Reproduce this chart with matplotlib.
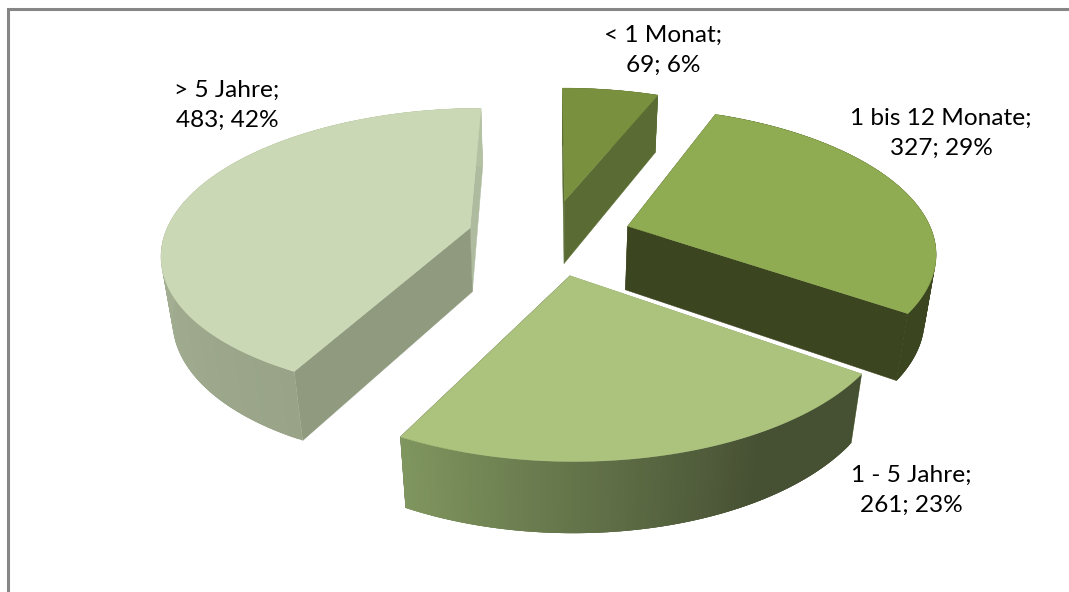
import numpy as np
import matplotlib
matplotlib.use("Agg")
import matplotlib.pyplot as plt
from matplotlib.colors import to_rgb
from matplotlib.patches import Polygon

categories = ["< 1 Monat", "1 bis 12 Monate", "1 - 5 Jahre", "> 5 Jahre"]
values = [69, 327, 261, 483]
percents = [6, 29, 23, 42]

top_colors = ["#79903f", "#90ac52", "#acc37e", "#cbd8b5"]
wall_start = ["#5a6c33", "#3b4520", "#465033", "#98a388"]
wall_end = ["#5a6c33", "#3b4520", "#80965f", "#b5c1a3"]
cut_start = ["#5a6c33", "#3b4520", "#80965f", "#8f9a7f"]
cut_end = ["#5a6c33", "#3b4520", "#465033", "#aebb9f"]

# perspective of the pie, in pixels
cx, cy = 549.5, 237
ax_r, ay_r = 306, 141.7
k = 0.161
height = 66
t = 0.03
explode = 0.27


def project(x, y, depth=0.0):
    w = 1 - k * y + t * depth
    return np.column_stack([cx + ax_r * x / w, cy + (ay_r * y + height * depth) / w])


fig = plt.figure(figsize=(10.69, 5.92), dpi=100)
ax = fig.add_axes([0, 0, 1, 1])
ax.set_xlim(0, 1069)
ax.set_ylim(592, 0)
ax.axis("off")

# chart frame, only left and top are in the crop
ax.plot([8, 8, 1069], [592, 8.5, 8.5], color="#868686", lw=2.2, solid_joinstyle="miter")

plt.rcParams["font.family"] = ["Lato", "DejaVu Sans"]

total = sum(values)
edges = np.concatenate([[0], np.cumsum(values)]) / total * 2 * np.pi

# back slices first, the front one last
for i in [0, 1, 3, 2]:
    a0, a1 = edges[i], edges[i + 1]
    mid = (a0 + a1) / 2
    ox, oy = explode * np.sin(mid), -explode * np.cos(mid)
    ang = np.linspace(a0, a1, 160)
    rx = ox + np.sin(ang)
    ry = oy - np.cos(ang)

    # cut faces, far one first
    cuts = [(a0, cut_start[i]), (a1, cut_end[i])]
    cuts.sort(key=lambda c: -np.cos(c[0]))
    for a, col in cuts:
        xs = np.array([ox, ox + np.sin(a)])
        ys = np.array([oy, oy - np.cos(a)])
        quad = np.vstack([project(xs, ys), project(xs[::-1], ys[::-1], 1.0)])
        ax.add_patch(Polygon(quad, closed=True, fc=col, ec=col, lw=0.3, zorder=2))

    # outer wall as overlapping strips, colour runs along the arc
    up = project(rx, ry)
    down = project(rx, ry, 1.0)
    c0, c1 = np.array(to_rgb(wall_start[i])), np.array(to_rgb(wall_end[i]))
    n = len(ang)
    for j in range(n - 1):
        f = j / (n - 2)
        if i == 2:
            f = np.interp(f, [0, 0.3, 1], [0, 0, 1])
        col = c0 + (c1 - c0) * f
        end = min(j + 4, n)
        quad = np.vstack([up[j:end], down[j:end][::-1]])
        ax.add_patch(Polygon(quad, closed=True, fc=col, ec="none", lw=0, zorder=2))

    # top face
    top = np.vstack([project(np.array([ox]), np.array([oy])), up])
    ax.add_patch(Polygon(top, closed=True, fc=top_colors[i], ec=top_colors[i], lw=0.3, zorder=2))

label_pos = [(663, 50), (941, 133), (911, 490), (227, 105)]
for name, v, p, pos in zip(categories, values, percents, label_pos):
    ax.text(pos[0], pos[1], f"{name};\n{v}; {p}%", ha="center", va="center",
            fontsize=17.6, color="black", linespacing=1.52, zorder=3)

fig.savefig("out.png", dpi=100)
